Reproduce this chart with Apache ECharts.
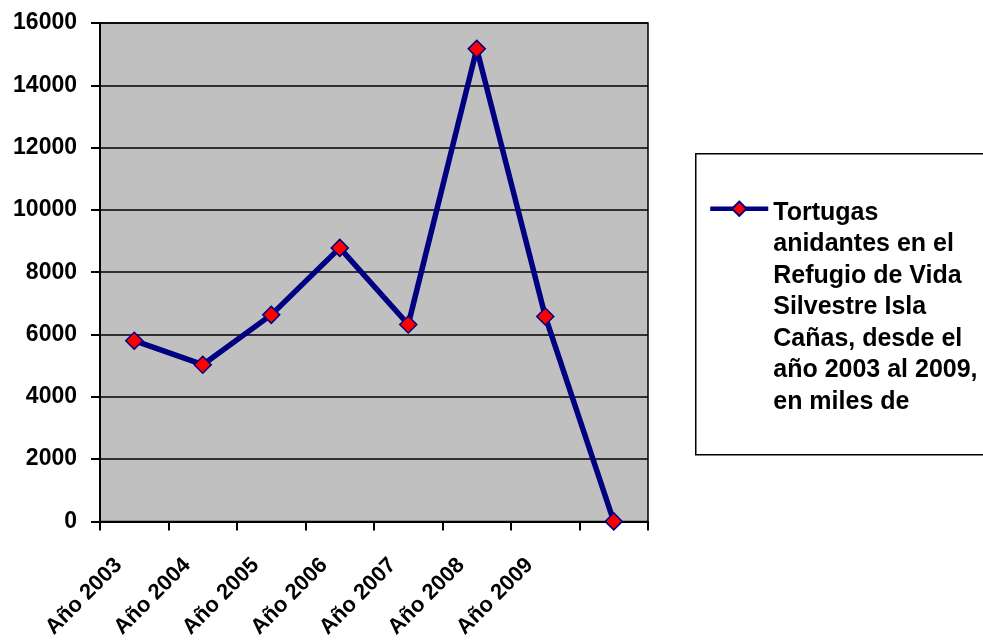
<!DOCTYPE html>
<html>
<head>
<meta charset="utf-8">
<script src="https://cdn.jsdelivr.net/npm/echarts@6/dist/echarts.min.js"></script>
<style>
  html, body { margin: 0; padding: 0; background: #fff; }
  #chart { width: 983px; height: 641px; }
</style>
</head>
<body>
<div id="chart"></div>
<script>
// datos
var categorias = ["Año 2003", "Año 2004", "Año 2005", "Año 2006", "Año 2007", "Año 2008", "Año 2009", ""];
var tortugas = [5800, 5030, 6630, 8780, 6320, 15170, 6580, 0];
var lineasLeyenda = [
  "Tortugas",
  "anidantes en el",
  "Refugio de Vida",
  "Silvestre Isla",
  "Cañas, desde el",
  "año 2003 al 2009,",
  "en miles de"
];
var ejeY = { min: 0, max: 16000, interval: 2000 };

var fuente = "'Liberation Sans', Arial, sans-serif";
var nombreSerie = lineasLeyenda.join("\n");

var chart = echarts.init(document.getElementById("chart"), null, { renderer: "canvas" });

// lineas vacias delante para que el icono quede a la altura de la primera linea
var relleno = "{p| }\n" + new Array(lineasLeyenda.length).join("\n");

var option = {
  animation: false,
  backgroundColor: "#ffffff",
  grid: {
    left: 100,
    right: 335,
    top: 23,
    bottom: 118,
    show: true,
    backgroundColor: "#c0c0c0",
    borderColor: "#000000",
    borderWidth: 1.5
  },
  graphic: [
    {
      // marco de la leyenda
      type: "rect",
      left: 695,
      top: 153,
      shape: { width: 300, height: 301 },
      style: { fill: "#ffffff", stroke: "#000000", lineWidth: 1.5 },
      z: -1
    }
  ],
  legend: {
    orient: "vertical",
    left: 708,
    top: 0,
    padding: 0,
    itemWidth: 58,
    itemHeight: 18,
    data: [nombreSerie],
    formatter: function (name) {
      return relleno + name;
    },
    lineStyle: { width: 4.5, color: "#000080" },
    textStyle: {
      fontFamily: fuente,
      fontWeight: "bold",
      fontSize: 25,
      color: "#000000",
      lineHeight: 31.5,
      rich: {
        p: { fontSize: 8, lineHeight: 8 }
      }
    }
  },
  xAxis: {
    type: "category",
    data: categorias,
    boundaryGap: true,
    axisLine: { lineStyle: { color: "#000000", width: 2 } },
    axisTick: { show: true, length: 9, lineStyle: { color: "#000000", width: 2 } },
    axisLabel: {
      interval: 0,
      rotate: 45,
      margin: 25,
      padding: [0, 22, 0, 0],
      fontFamily: fuente,
      fontWeight: "bold",
      fontSize: 22,
      color: "#000000"
    },
    splitLine: { show: false }
  },
  yAxis: {
    type: "value",
    min: ejeY.min,
    max: ejeY.max,
    interval: ejeY.interval,
    axisLine: { show: true, lineStyle: { color: "#000000", width: 2 } },
    axisTick: { show: true, length: 9, lineStyle: { color: "#000000", width: 2 } },
    axisLabel: {
      margin: 23,
      formatter: function (v) { return String(v); },
      fontFamily: fuente,
      fontWeight: "bold",
      fontSize: 23,
      color: "#000000"
    },
    splitLine: { show: true, lineStyle: { color: "#000000", width: 1.5 } }
  },
  series: [
    {
      name: nombreSerie,
      type: "line",
      data: tortugas,
      symbol: "diamond",
      symbolSize: 17,
      lineStyle: { color: "#000080", width: 5.5 },
      itemStyle: { color: "#ff0000", borderColor: "#000080", borderWidth: 1.5 },
      z: 5
    }
  ]
};

chart.setOption(option);
</script>
</body>
</html>
